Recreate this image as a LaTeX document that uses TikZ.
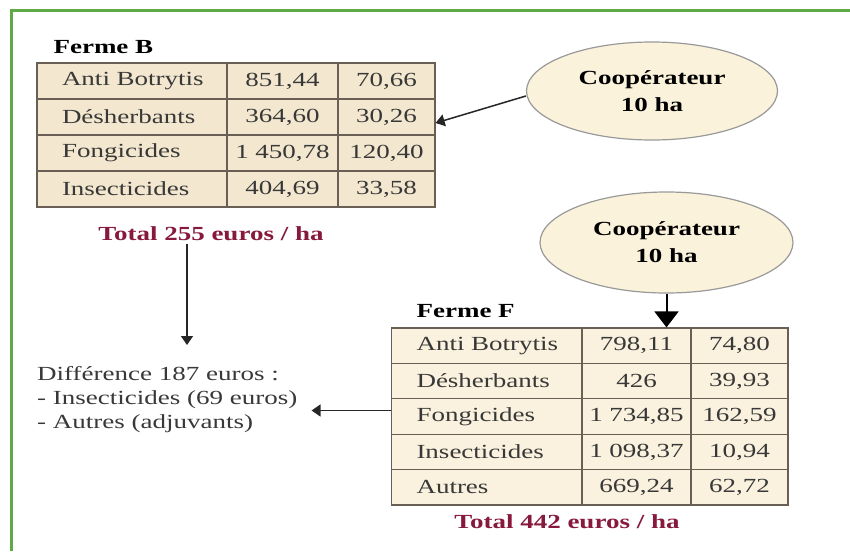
\documentclass[tikz,border=0pt]{standalone}
\usepackage{fontspec}
\setmainfont{Liberation Serif}[FakeStretch=1.35]
\usetikzlibrary{arrows.meta, shapes.geometric}
\definecolor{framegreen}{RGB}{96,170,70}
\definecolor{cellB}{RGB}{243,232,207}
\definecolor{cellF}{RGB}{250,242,222}
\definecolor{gridc}{RGB}{105,95,85}
\definecolor{ovalc}{RGB}{250,242,218}
\definecolor{totred}{RGB}{135,25,60}
\tikzset{
  txt/.style  ={font=\fontsize{20}{24}\selectfont, text=black!78},
  ttl/.style  ={font=\fontsize{20}{24}\selectfont\bfseries, text=black},
  tot/.style  ={font=\fontsize{20}{24}\selectfont\bfseries, text=totred},
  cell/.style ={txt, draw=gridc, line width=1.2pt, inner sep=0pt,
                minimum height=36pt},
  cname/.style={cell, text width=190pt, align=left,
                execute at begin node={\hspace*{25pt}}},
  cval/.style ={cell, minimum width=#1},
  oval/.style ={ellipse, draw=black!40, line width=1.2pt, fill=ovalc,
                inner sep=0pt, align=center, ttl},
  arr/.style  ={-{Triangle[length=9pt, width=12pt]}, line width=1.5pt,
                draw=black!85},
  arrbig/.style={-{Triangle[length=16pt, width=24pt]}, line width=2pt,
                draw=black},
  frame/.style={draw=framegreen, line width=3pt},
}
\begin{document}
\begin{tikzpicture}[x=1pt, y=-1pt]
  \useasboundingbox (0,0) rectangle (850,551);
  \draw[frame] (850,11) -- (11,11) -- (11,551);
  % ---- Ferme B
  \node[ttl, anchor=base west] (titB) at (50,53) {Ferme B};
  \begin{scope}[cell/.append style={fill=cellB}]
  \node[cname]       (b1a) at (132,81)    {Anti Botrytis};
  \node[cval=111pt]  (b1b) at (282.5,81)  {851,44};
  \node[cval=97pt]   (b1c) at (386.5,81)  {70,66};
  \node[cname]       (b2a) at (132,117)   {Désherbants};
  \node[cval=111pt]  (b2b) at (282.5,117) {364,60};
  \node[cval=97pt]   (b2c) at (386.5,117) {30,26};
  \node[cname]       (b3a) at (132,153)   {Fongicides};
  \node[cval=111pt]  (b3b) at (282.5,153) {1 450,78};
  \node[cval=97pt]   (b3c) at (386.5,153) {120,40};
  \node[cname]       (b4a) at (132,189)   {Insecticides};
  \node[cval=111pt]  (b4b) at (282.5,189) {404,69};
  \node[cval=97pt]   (b4c) at (386.5,189) {33,58};
  \end{scope}
  \node[tot, anchor=base] (totB) at (211,240) {Total 255 euros / ha};
  % ---- coopérateurs
  \node[oval, minimum width=251pt, minimum height=98pt] (coopB)
    at (652,91) {Coopérateur\\[3pt]10 ha};
  \node[oval, minimum width=253pt, minimum height=101pt] (coopF)
    at (666.5,242.5) {Coopérateur\\[3pt]10 ha};
  % ---- Ferme F
  \node[ttl, anchor=base west] (titF) at (413,317) {Ferme F};
  \begin{scope}[cell/.append style={fill=cellF, minimum height=35.4pt}]
  \node[cname]       (f1a) at (486.5,345.7) {Anti Botrytis};
  \node[cval=109pt]  (f1b) at (636.5,345.7) {798,11};
  \node[cval=97pt]   (f1c) at (739.5,345.7) {74,80};
  \node[cname]       (f2a) at (486.5,381.1) {Désherbants};
  \node[cval=109pt]  (f2b) at (636.5,381.1) {426};
  \node[cval=97pt]   (f2c) at (739.5,381.1) {39,93};
  \node[cname]       (f3a) at (486.5,416.5) {Fongicides};
  \node[cval=109pt]  (f3b) at (636.5,416.5) {1 734,85};
  \node[cval=97pt]   (f3c) at (739.5,416.5) {162,59};
  \node[cname]       (f4a) at (486.5,451.9) {Insecticides};
  \node[cval=109pt]  (f4b) at (636.5,451.9) {1 098,37};
  \node[cval=97pt]   (f4c) at (739.5,451.9) {10,94};
  \node[cname]       (f5a) at (486.5,487.3) {Autres};
  \node[cval=109pt]  (f5b) at (636.5,487.3) {669,24};
  \node[cval=97pt]   (f5c) at (739.5,487.3) {62,72};
  \end{scope}
  \node[tot, anchor=base] (totF) at (567,528) {Total 442 euros / ha};
  % ---- difference
  \node[txt, align=left, anchor=west, inner xsep=14pt, inner ysep=0pt] (diff)
    at (23,400) {Différence 187 euros :\\- Insecticides (69 euros)\\- Autres (adjuvants)};
  \coordinate (dv) at (187,345);
  % ---- arrows
  \draw[arr] ([yshift=-5pt]coopB.west) -- ([yshift=-6pt]b2c.east);
  \draw[arrbig] (coopF.south) -- (coopF.south |- f1b.north);
  \draw[arr] (totB.south -| dv) -- (dv);
  \draw[arr] ([yshift=6pt]f3a.west) -- ([yshift=6pt]f3a.west -| diff.east);
\end{tikzpicture}
\end{document}
